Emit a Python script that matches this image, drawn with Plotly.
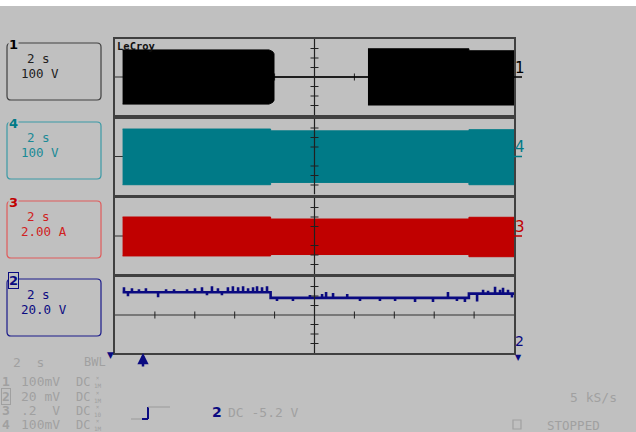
import plotly.graph_objects as go

W, H = 636, 432
BG = '#c0c0c0'
MONO = 'DejaVu Sans Mono'
GRAYTXT = '#a0a0a0'

# ---------------- data (read from the screen) ----------------
# time base: 10 div x 2 s/div
t_range = [0, 20]

# channel 1 (100 V/div) : envelope of the burst, then off, then burst again
ch1_on1_t = [0.38, 7.72, 7.90, 7.97]
ch1_on1_hi = [285, 285, 268, 245]
ch1_on1_lo = [-285, -285, -268, -245]
ch1_off_t = [7.97, 12.68]
ch1_off_v = [0, 0]
ch1_on2_t = [12.68, 17.74, 17.74, 20.0]
ch1_on2_hi = [297, 297, 276, 276]
ch1_on2_lo = [-295, -295, -295, -295]

# channel 4 (100 V/div) envelope
ch4_t = [0.38, 7.80, 7.80, 17.74, 17.74, 20.0]
ch4_hi = [289, 289, 270, 270, 282, 282]
ch4_lo = [-297, -297, -273, -273, -297, -297]

# channel 3 (2.00 A/div) envelope
ch3_t = [0.38, 7.80, 7.80, 17.74, 17.74, 20.0]
ch3_hi = [4.0, 4.0, 3.58, 3.58, 3.94, 3.94]
ch3_lo = [-4.2, -4.2, -3.9, -3.9, -4.36, -4.36]

# channel 2 (20.0 V/div) level and noise spikes
ch2_t = [0.38, 7.80, 7.80, 17.74, 17.74, 20.0]
ch2_v = [48, 48, 36, 36, 45, 45]
ch2_spike_t = [0.45, 0.65, 0.85, 1.20, 1.55, 2.16, 2.56, 2.96, 3.61, 4.01,
               4.36, 4.61, 4.86, 5.16, 5.36, 5.66, 5.91, 6.17, 6.42, 6.67,
               6.92, 7.12, 7.37, 7.62,
               8.12, 8.92, 9.77, 10.38, 10.58, 10.93, 11.64, 12.28, 13.28,
               14.04, 15.04, 15.94, 16.69, 17.14, 17.54,
               18.15, 18.45, 18.70, 19.05, 19.30, 19.45, 19.70, 19.90]
ch2_spike_dv = [10.5, -8.4, 8.4, 6.3, 8.4, -10.5, 6.3, 6.3, 6.3, 8.4,
                10.5, -6.3, 12.6, 8.4, -6.3, 10.5, 12.6, 10.5, 12.6, 8.4,
                10.5, 12.6, 10.5, 12.6,
                -6.3, -6.3, 6.3, 8.4, 12.6, 10.5, 8.4, -6.3, -6.3,
                -6.3, -8.4, -8.4, 12.6, -6.3, -8.4,
                -16.8, 8.4, 6.3, 14.7, 8.4, 12.6, 8.4, -8.4]

# panel settings: channel, top pixel, volts per division, colour
ch_names = ['1', '4', '3', '2']
ch_vdiv = [100, 100, 2, 20]
ch_colors = ['#000000', '#007a87', '#c00000', '#0a0a80']
panel_top = [39, 118.5, 198, 277]
PANEL_H = 76
X0, X1 = 115, 514


def px(x, y):
    return x / W, 1 - y / H


fig = go.Figure()


def env_trace(t, hi, lo, color, ax):
    xs = list(t) + list(reversed(t))
    ys = list(hi) + list(reversed(lo))
    fig.add_trace(go.Scatter(x=xs, y=ys, fill='toself', fillcolor=color,
                             mode='lines', line=dict(color=color, width=1),
                             xaxis='x' + ax, yaxis='y' + ax, hoverinfo='skip',
                             showlegend=False))


# channel 1
env_trace(ch1_on1_t, ch1_on1_hi, ch1_on1_lo, ch_colors[0], '1')
fig.add_trace(go.Scatter(x=ch1_off_t, y=ch1_off_v, mode='lines',
                         line=dict(color='#000000', width=1.5),
                         xaxis='x1', yaxis='y1', showlegend=False))
env_trace(ch1_on2_t, ch1_on2_hi, ch1_on2_lo, ch_colors[0], '1')
# channel 4
env_trace(ch4_t, ch4_hi, ch4_lo, ch_colors[1], '2')
# channel 3
env_trace(ch3_t, ch3_hi, ch3_lo, ch_colors[2], '3')


# channel 2 : level + spikes
def level(t):
    val = ch2_v[0]
    for tt, vv in zip(ch2_t, ch2_v):
        if tt <= t:
            val = vv
    return val


pts = [(t, v, 0) for t, v in zip(ch2_t, ch2_v)]
for t, dv in zip(ch2_spike_t, ch2_spike_dv):
    b = level(t)
    pts += [(t, b, 1), (t, b + dv, 2), (t, b, 3)]
pts.sort(key=lambda p: (p[0], p[2]))
fig.add_trace(go.Scatter(x=[p[0] for p in pts], y=[p[1] for p in pts],
                         mode='lines', line=dict(color=ch_colors[3], width=2.6),
                         xaxis='x4', yaxis='y4', showlegend=False))

layout = dict(width=W, height=H, margin=dict(l=0, r=0, t=0, b=0),
              paper_bgcolor=BG, plot_bgcolor=BG, showlegend=False)
shapes = []
annotations = []

for i in range(4):
    n = str(i + 1)
    top = panel_top[i]
    vd = ch_vdiv[i]
    xa = 'xaxis' + ('' if i == 0 else n)
    ya = 'yaxis' + ('' if i == 0 else n)
    layout[xa] = dict(domain=[X0 / W, X1 / W], range=t_range, anchor='y' + n,
                      showline=True, mirror=True, linecolor='#404040',
                      linewidth=1.5, showgrid=False, zeroline=False,
                      showticklabels=False, ticks='', fixedrange=True)
    layout[ya] = dict(domain=[1 - (top + PANEL_H) / H, 1 - top / H],
                      range=[-4 * vd, 4 * vd], anchor='x' + n,
                      showline=True, mirror=True, linecolor='#404040',
                      linewidth=1.5, showgrid=False, zeroline=False,
                      showticklabels=False, ticks='', fixedrange=True)
    xr, yr = 'x' + n, 'y' + n
    # horizontal centre line with ticks (below trace)
    shapes.append(dict(type='line', xref=xr, yref=yr, x0=0, x1=20, y0=0, y1=0,
                       line=dict(color='#303030', width=1), layer='below'))
    for k in range(1, 10):
        if k == 5:
            continue
        shapes.append(dict(type='line', xref=xr, yref=yr, x0=2 * k, x1=2 * k,
                           y0=-0.37 * vd, y1=0.37 * vd,
                           line=dict(color='#202020', width=1), layer='below'))
    # vertical centre line with ticks (above)
    shapes.append(dict(type='line', xref=xr, yref=yr, x0=10, x1=10,
                       y0=-4 * vd, y1=4 * vd,
                       line=dict(color='#202020', width=1.2), layer='above'))
    for j in [-3, -2, -1, 1, 2, 3]:
        shapes.append(dict(type='line', xref=xr, yref=yr, x0=9.8, x1=10.2,
                           y0=j * vd, y1=j * vd,
                           line=dict(color='#202020', width=1), layer='above'))

# white strip on top
shapes.append(dict(type='rect', xref='paper', yref='paper', x0=0, x1=1,
                   y0=1 - 6 / H, y1=1, fillcolor='white', line=dict(width=0),
                   layer='below'))


def rrect(x0, y0, x1, y1, r, color):
    def p(x, y):
        a, b = px(x, y)
        return f'{a:.5f},{b:.5f}'
    path = (f'M {p(x0 + r, y0)} L {p(x1 - r, y0)} Q {p(x1, y0)} {p(x1, y0 + r)} '
            f'L {p(x1, y1 - r)} Q {p(x1, y1)} {p(x1 - r, y1)} '
            f'L {p(x0 + r, y1)} Q {p(x0, y1)} {p(x0, y1 - r)} '
            f'L {p(x0, y0 + r)} Q {p(x0, y0)} {p(x0 + r, y0)} Z')
    shapes.append(dict(type='path', xref='paper', yref='paper', path=path,
                       line=dict(color=color, width=1.2)))


def pline(x0, y0, x1, y1, color, w=1.2):
    a0, b0 = px(x0, y0)
    a1, b1 = px(x1, y1)
    shapes.append(dict(type='line', xref='paper', yref='paper', x0=a0, y0=b0,
                       x1=a1, y1=b1, line=dict(color=color, width=w)))


def txt(x, y, s, color, size=13, anchor='left', family=MONO, bg=None,
        border=None):
    a, b = px(x, y)
    d = dict(x=a, y=b, xref='paper', yref='paper', text=s, showarrow=False,
             xanchor=anchor, yanchor='middle',
             font=dict(family=family, size=size, color=color), borderpad=0)
    if bg:
        d['bgcolor'] = bg
    if border:
        d['bordercolor'] = border
        d['borderwidth'] = 1
    annotations.append(d)


# left info boxes
box_tops = [43, 122, 201, 279]
box_colors = ['#404040', '#3a9aa6', '#e05a5a', '#1a1a8a']
txt_colors = ['#202020', '#1a8a96', '#d02020', '#0a0a80']
box_lines = [('2 s', '100 V'), ('2 s', '100 V'), ('2 s', '2.00 A'),
             ('2 s', '20.0 V')]
for i in range(4):
    t0 = box_tops[i]
    rrect(7, t0, 101, t0 + 57, 4, box_colors[i])
    txt(38, t0 + 15, box_lines[i][0], txt_colors[i], size=12.5, anchor='center')
    l2 = box_lines[i][1]
    txt(20, t0 + 30, l2, txt_colors[i], size=12.5, anchor='left')
    lab_col = ['#000000', '#007a87', '#c00000', '#0a0a80'][i]
    txt(14, t0 + 1, '<b>' + ch_names[i] + '</b>', lab_col, size=13,
        anchor='center', family='DejaVu Sans', bg=BG,
        border='#0a0a80' if i == 3 else None)

# right channel markers
right_y = [68, 147, 227]
ul_y = [77, 156.5, 236]
for i in range(3):
    txt(514, right_y[i], ch_names[i], ch_colors[i], size=15, family='DejaVu Sans')
    pline(514, ul_y[i], 522, ul_y[i], ch_colors[i], 1.5)
txt(514, 341, '2', ch_colors[3], size=14, family='DejaVu Sans')
txt(518, 357, '▼', ch_colors[3], size=8, anchor='center', family='DejaVu Sans')

# LeCroy logo
txt(116, 46, '<b>LeCroy</b>', '#101010', size=10.5, family=MONO)

# bottom status area
txt(12, 362, '2  s', GRAYTXT, size=13)
txt(83, 362, 'BWL', GRAYTXT, size=12)
txt(110, 355, '▼', '#0a0a80', size=9, anchor='center', family='DejaVu Sans')
annotations.append(dict(x=143 / W, y=1 - 353 / H, xref='paper', yref='paper',
                        text='', showarrow=True, ax=0, ay=15, arrowhead=2,
                        arrowsize=0.9, arrowwidth=2.5, arrowcolor='#0a0a80'))

row_y = [381.5, 396.5, 410.5, 424.5]
row_num = ['1', '2', '3', '4']
row_val = ['100mV', '20 mV', '.2  V', '100mV']
row_prb = ['1M', '1M', '10', '1M']
for i in range(4):
    txt(1, row_y[i], '<b>' + row_num[i] + '</b>', GRAYTXT, size=13,
        border=GRAYTXT if i == 1 else None)
    txt(20, row_y[i], row_val[i], GRAYTXT, size=13)
    txt(75, row_y[i], 'DC', GRAYTXT, size=12)
    txt(93, row_y[i], '×<br>' + row_prb[i], GRAYTXT, size=6)

# trigger symbol
pline(131, 419, 147, 419, GRAYTXT, 1.2)
pline(142, 419, 148, 419, '#0a0a80', 2)
pline(148, 419, 148, 407, '#0a0a80', 2)
pline(148, 407, 170, 407, GRAYTXT, 1.2)
txt(211, 412, '<b>2</b>', '#0a0a80', size=14, family='DejaVu Sans')
txt(227, 412, 'DC -5.2 V', GRAYTXT, size=13)

txt(569, 397.5, '5 kS/s', GRAYTXT, size=13)
a0, b0 = px(513, 420)
a1, b1 = px(521, 429)
shapes.append(dict(type='rect', xref='paper', yref='paper', x0=a0, y0=b0,
                   x1=a1, y1=b1, line=dict(color=GRAYTXT, width=1.2)))
txt(546, 425, 'STOPPED', GRAYTXT, size=12.5)

layout['shapes'] = shapes
layout['annotations'] = annotations
fig.update_layout(**layout)
fig.write_html('out.html')
